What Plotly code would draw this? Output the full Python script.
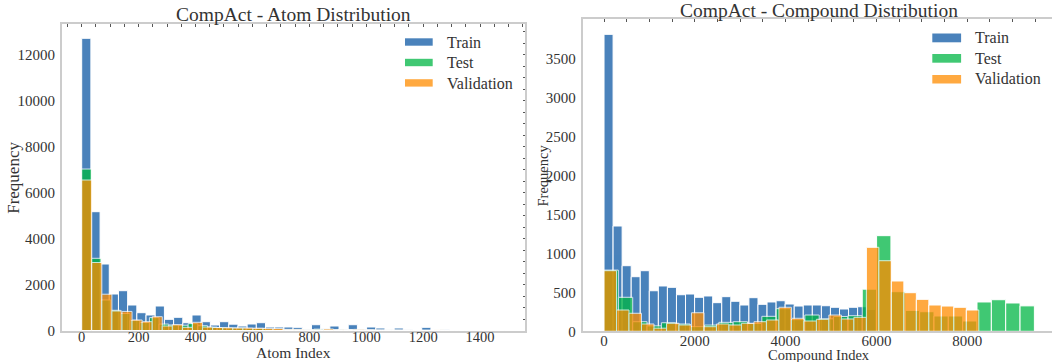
import plotly.graph_objects as go

# ---------------- data ----------------
# Atom distribution: histogram counts per bin, bins start at 0
ATOM_TRAIN_BIN = 32.3
ATOM_TRAIN = [12720, 5172, 2895, 1589, 1733, 1110, 775, 675, 1066, 487, 575, 340,
              675, 383, 239, 383, 275, 196, 283, 340, 152, 152, 152, 139, 60, 252,
              78, 196, 65, 252, 60, 152, 109, 30, 109, 30, 20, 139, 20, 30, 15, 10,
              10, 5, 10, 5]
ATOM_TEST_BIN = 34.0
ATOM_TEST = [7030, 3143, 1330, 880, 740, 440, 350, 560, 280, 240, 230, 300, 210,
             150, 120, 110, 110, 90, 90, 60, 50, 40, 40, 30, 60, 40, 30, 40, 30,
             20, 20, 20, 15, 10, 10, 10, 10, 5, 5, 5, 5, 5, 5]
ATOM_VAL_BIN = 35.4
ATOM_VAL = [6551, 2960, 1580, 849, 830, 457, 383, 601, 196, 252, 139, 357, 150,
            130, 120, 110, 110, 100, 95, 90, 50, 50, 45, 40, 65, 40, 45, 50, 40,
            25, 20, 25, 20, 15, 15, 25, 10, 10, 5, 5, 5, 5]

# Compound distribution
COMP_TRAIN_BIN = 199.5
COMP_TRAIN = [3807, 1350, 841, 700, 777, 520, 581, 564, 469, 478, 436, 453, 367,
              444, 385, 337, 431, 346, 376, 392, 350, 324, 337, 337, 328, 308, 286,
              308, 315, 280]
COMP_TEST_BIN = 316.0
COMP_TEST = [785, 436, 123, 70, 110, 94, 60, 80, 115, 123, 100, 192, 290, 150, 209,
             160, 190, 200, 540, 1226, 508, 268, 251, 196, 196, 132, 376, 405, 363,
             326]
COMP_VAL_BIN = 275.2
COMP_VAL = [777, 273, 231, 94, 40, 103, 81, 238, 59, 94, 81, 103, 123, 145, 308,
            167, 132, 154, 209, 158, 179, 1077, 905, 645, 495, 410, 337, 324, 308,
            273]

SERIES = ["Train", "Test", "Validation"]
ATOM_X_TICKS = [0, 200, 400, 600, 800, 1000, 1200, 1400]
ATOM_Y_TICKS = [0, 2000, 4000, 6000, 8000, 10000, 12000]
COMP_X_TICKS = [0, 2000, 4000, 6000, 8000]
COMP_Y_TICKS = [0, 500, 1000, 1500, 2000, 2500, 3000, 3500]

# ---------------- styling ----------------
W, H = 1052, 362
COLORS = {"Train": "rgb(14,88,164)", "Test": "rgb(0,182,68)", "Validation": "rgb(255,140,0)"}
ALPHA = 0.75
FONT = "Liberation Serif"
TXT = "#333333"
SPINE = "#cccccc"


def px(x):
    return x / W


def py(y):
    return 1 - y / H


def centers(counts, width):
    return [width * (i + 0.5) for i in range(len(counts))]


fig = go.Figure()

atom = {"Train": (ATOM_TRAIN, ATOM_TRAIN_BIN), "Test": (ATOM_TEST, ATOM_TEST_BIN),
        "Validation": (ATOM_VAL, ATOM_VAL_BIN)}
comp = {"Train": (COMP_TRAIN, COMP_TRAIN_BIN), "Test": (COMP_TEST, COMP_TEST_BIN),
        "Validation": (COMP_VAL, COMP_VAL_BIN)}

for name in SERIES:
    cnt, bw = atom[name]
    fig.add_trace(go.Bar(x=centers(cnt, bw), y=cnt, width=bw, name=name,
                         marker=dict(color=COLORS[name], line=dict(color="white", width=1)),
                         opacity=ALPHA, xaxis="x", yaxis="y", showlegend=False))
for name in SERIES:
    cnt, bw = comp[name]
    fig.add_trace(go.Bar(x=centers(cnt, bw), y=cnt, width=bw, name=name,
                         marker=dict(color=COLORS[name], line=dict(color="white", width=1)),
                         opacity=ALPHA, xaxis="x2", yaxis="y2", showlegend=False))

# empty helper traces so the tick-only overlay axes are drawn
fig.add_trace(go.Scatter(x=[], y=[], xaxis="x3", yaxis="y", showlegend=False, hoverinfo="skip"))
fig.add_trace(go.Scatter(x=[], y=[], xaxis="x", yaxis="y3", showlegend=False, hoverinfo="skip"))
fig.add_trace(go.Scatter(x=[], y=[], xaxis="x4", yaxis="y2", showlegend=False, hoverinfo="skip"))

tickfont = dict(family=FONT, size=15, color=TXT)
L_XR = [-70.3, 1558]
L_YR = [0, 13330]
R_XR = [-474, 9868]
R_YR = [0, 4000]
L_XD = [px(61.7), px(525)]
L_YD = [py(330.5), py(24.3)]
R_XD = [px(582.5), 1.0]
R_YD = [py(331.3), py(19.3)]

common = dict(showgrid=False, zeroline=False, showline=True, linecolor=SPINE, linewidth=1.5,
              ticks="", automargin=False, tickmode="array")

fig.update_layout(
    width=W, height=H, margin=dict(l=0, r=0, t=0, b=0),
    paper_bgcolor="white", plot_bgcolor="white", barmode="overlay",
    xaxis=dict(domain=L_XD, range=L_XR, anchor="y", mirror=True,
               tickvals=ATOM_X_TICKS, ticktext=[str(v) for v in ATOM_X_TICKS],
               tickfont=dict(family=FONT, size=14.5, color=TXT),
               ticklabelstandoff=-8, **common),
    yaxis=dict(domain=L_YD, range=L_YR, anchor="x", mirror=True,
               tickvals=ATOM_Y_TICKS, ticktext=[str(v) for v in ATOM_Y_TICKS],
               tickfont=tickfont, ticklabelstandoff=2, **common),
    xaxis2=dict(domain=R_XD, range=R_XR, anchor="y2", mirror=True,
                tickvals=COMP_X_TICKS, ticktext=[str(v) for v in COMP_X_TICKS],
                tickfont=tickfont, ticklabelstandoff=-5, **common),
    yaxis2=dict(domain=R_YD, range=R_YR, anchor="x2", mirror=False,
                tickvals=COMP_Y_TICKS, ticktext=[str(v) for v in COMP_Y_TICKS],
                tickfont=tickfont, ticklabelstandoff=2, **common),
    xaxis3=dict(overlaying="x", side="top", anchor="y", range=L_XR, tickmode="linear",
                tick0=0, dtick=50, ticks="inside", ticklen=3, tickwidth=1, tickcolor="#555",
                showticklabels=False, showline=False, showgrid=False, zeroline=False),
    yaxis3=dict(overlaying="y", side="right", anchor="x", range=L_YR, tickmode="linear",
                tick0=0, dtick=500, ticks="inside", ticklen=2, tickwidth=1, tickcolor="#555",
                showticklabels=False, showline=False, showgrid=False, zeroline=False),
    xaxis4=dict(overlaying="x2", side="top", anchor="y2", range=R_XR, tickmode="linear",
                tick0=0, dtick=500, ticks="inside", ticklen=3, tickwidth=1, tickcolor="#555",
                showticklabels=False, showline=False, showgrid=False, zeroline=False),
)

ann = []


def text(x, y, s, size, angle=0, xanchor="center", yanchor="middle"):
    ann.append(dict(x=px(x), y=py(y), xref="paper", yref="paper", text=s, showarrow=False,
                    xanchor=xanchor, yanchor=yanchor, textangle=angle, borderpad=0,
                    font=dict(family=FONT, size=size, color=TXT)))


# titles and axis labels
text(293, 14.3, "CompAct - Atom Distribution", 19.5)
text(819, 10.5, "CompAct - Compound Distribution", 19.5)
text(293.5, 362, "Atom Index", 15.5, yanchor="bottom")
text(13.3, 177.5, "Frequency", 17, angle=-90)
text(819, 354.5, "Compound Index", 14.5)
text(542, 175.5, "Frequency", 14.5, angle=-90)

# legends (patch + label)
shapes = []
legends = [
    dict(x0=405, x1=432.7, tx=445.7, rows=[(38.3, 45.7, 42), (58.8, 66.2, 62.5), (79.2, 86.6, 83)]),
    dict(x0=932.3, x1=961.1, tx=974, rows=[(33.5, 42.3, 38), (54, 62.7, 58.5), (75, 83.5, 79)]),
]
for lg in legends:
    for name, (y0, y1, ty) in zip(SERIES, lg["rows"]):
        shapes.append(dict(type="rect", xref="paper", yref="paper", x0=px(lg["x0"]), x1=px(lg["x1"]),
                           y0=py(y1), y1=py(y0), fillcolor=COLORS[name], opacity=ALPHA,
                           line=dict(width=0)))
        text(lg["tx"], ty, name, 16, xanchor="left")

fig.update_layout(annotations=ann, shapes=shapes)

fig.write_html("out.html", config={"displayModeBar": False},
               post_script="document.body.style.margin='0';document.body.style.overflow='hidden';")
